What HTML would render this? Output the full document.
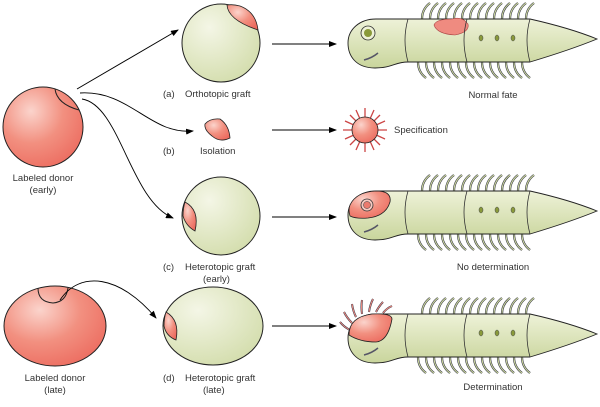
<!DOCTYPE html>
<html><head><style>body{margin:0;background:#fff}svg{display:block}text{font-family:"Liberation Sans",sans-serif;font-size:9.5px;fill:#333}</style></head><body>
<svg width="600" height="407" viewBox="0 0 600 407">
<defs>
<radialGradient id="r" cx="0.35" cy="0.3" r="0.8"><stop offset="0" stop-color="#fbd4cc"/><stop offset="0.5" stop-color="#f29080"/><stop offset="1" stop-color="#ec6a5e"/></radialGradient>
<radialGradient id="g" cx="0.35" cy="0.3" r="0.8"><stop offset="0" stop-color="#f4f6e6"/><stop offset="1" stop-color="#d2dcaa"/></radialGradient>
<linearGradient id="gb" x1="0" y1="0" x2="0" y2="1"><stop offset="0" stop-color="#eef2d8"/><stop offset="1" stop-color="#c9d59c"/></linearGradient>
<marker id="a" markerWidth="8" markerHeight="6" refX="7" refY="3" orient="auto" markerUnits="userSpaceOnUse"><path d="M0,0 L8,3 L0,6 Z" fill="#000"/></marker>
<g id="br" stroke="#333" stroke-width="0.6" fill="#c9d59c">
<path d="M422,19 q0,-10 8,-16 M430,19 q0,-10 8,-16 M438,19 q0,-10 8,-16 M446,19 q0,-10 8,-16 M454,19 q0,-10 8,-16 M462,19 q0,-10 8,-16 M470,19 q0,-10 8,-16 M478,19 q0,-10 8,-16 M486,19 q0,-10 8,-16 M494,19 q0,-10 8,-16 M502,19 q0,-10 8,-16 M510,19 q0,-10 8,-16 M518,19 q0,-10 8,-16 M526,19 q0,-10 8,-16" stroke="#334" stroke-width="2.2" fill="none"/>
<path d="M422,19 q0,-10 8,-16 M430,19 q0,-10 8,-16 M438,19 q0,-10 8,-16 M446,19 q0,-10 8,-16 M454,19 q0,-10 8,-16 M462,19 q0,-10 8,-16 M470,19 q0,-10 8,-16 M478,19 q0,-10 8,-16 M486,19 q0,-10 8,-16 M494,19 q0,-10 8,-16 M502,19 q0,-10 8,-16 M510,19 q0,-10 8,-16 M518,19 q0,-10 8,-16 M526,19 q0,-10 8,-16" stroke="#c9d59c" stroke-width="1.1" fill="none"/>
<path d="M418,62 q0,10 8,16 M426,62 q0,10 8,16 M434,62 q0,10 8,16 M442,62 q0,10 8,16 M450,62 q0,10 8,16 M458,62 q0,10 8,16 M466,62 q0,10 8,16 M474,62 q0,10 8,16 M482,62 q0,10 8,16 M490,62 q0,10 8,16 M498,62 q0,10 8,16 M506,62 q0,10 8,16 M514,62 q0,10 8,16 M522,62 q0,10 8,16" stroke="#334" stroke-width="2.2" fill="none"/>
<path d="M418,62 q0,10 8,16 M426,62 q0,10 8,16 M434,62 q0,10 8,16 M442,62 q0,10 8,16 M450,62 q0,10 8,16 M458,62 q0,10 8,16 M466,62 q0,10 8,16 M474,62 q0,10 8,16 M482,62 q0,10 8,16 M490,62 q0,10 8,16 M498,62 q0,10 8,16 M506,62 q0,10 8,16 M514,62 q0,10 8,16 M522,62 q0,10 8,16" stroke="#c9d59c" stroke-width="1.1" fill="none"/>
</g>
<path id="bodyp" d="M408,19 L530,19 Q570,28 597,39 Q570,50 530,62 L408,62 C395,62 392,68 375,68 C356,68 348,56 348,43 C348,29 360,19 376,19 C392,19 396,19 408,19 Z"/>
<g id="details" fill="none" stroke="#333" stroke-width="0.8">
<path d="M408,19 Q402,40 408,62 M467,19 Q461,40 467,62 M530,19 Q524,40 530,62"/>
<path d="M364,60 Q372,58 378,53" stroke="#556" stroke-width="1.5"/>
<ellipse cx="481" cy="38" rx="2" ry="3" fill="#8a9a3a" stroke="#445" stroke-width="0.5"/>
<ellipse cx="497" cy="38" rx="2" ry="3" fill="#8a9a3a" stroke="#445" stroke-width="0.5"/>
<ellipse cx="513" cy="38" rx="2" ry="3" fill="#8a9a3a" stroke="#445" stroke-width="0.5"/>
</g>
</defs>

<circle cx="43" cy="127" r="40" fill="url(#r)" stroke="#222" stroke-width="1"/>
<path d="M55,89 Q57,104 79,110" fill="none" stroke="#222" stroke-width="1"/>
<text x="43" y="181" text-anchor="middle">Labeled donor</text>
<text x="43" y="193" text-anchor="middle">(early)</text>

<path d="M77,89 L178,30" stroke="#000" fill="none" stroke-width="1" marker-end="url(#a)"/>
<path d="M80,93 C130,90 150,135 193,131" stroke="#000" fill="none" stroke-width="0.9" marker-end="url(#a)"/>
<path d="M82,99 C120,105 130,200 173,218" stroke="#000" fill="none" stroke-width="0.9" marker-end="url(#a)"/>

<circle cx="221" cy="43" r="39" fill="url(#g)" stroke="#222"/>
<path d="M227,5 Q228,20 258,30 Q256,12 240,6 Q233,4 227,5 Z" fill="url(#r)" stroke="#222" stroke-width="0.8"/>
<text x="163" y="97">(a)</text><text x="185" y="97">Orthotopic graft</text>

<path d="M205,124 Q210,118 220,119 Q229,125 230,138 Q220,143 212,136 Q204,130 205,124 Z" fill="url(#r)" stroke="#222" stroke-width="0.8"/>
<text x="163" y="154">(b)</text><text x="200" y="154">Isolation</text>

<circle cx="221" cy="216" r="39" fill="url(#g)" stroke="#222"/>
<path d="M185,202 Q200,210 195,231 Q186,226 183,216 Q183,208 185,202 Z" fill="url(#r)" stroke="#222" stroke-width="0.8"/>
<text x="163" y="270">(c)</text><text x="185" y="270">Heterotopic graft</text><text x="203" y="282">(early)</text>

<ellipse cx="55" cy="326" rx="51" ry="40" fill="url(#r)" stroke="#222"/>
<path d="M38,288 Q38,302 53,303 Q66,302 68,288" fill="none" stroke="#222"/>
<text x="55" y="381" text-anchor="middle">Labeled donor</text><text x="55" y="393" text-anchor="middle">(late)</text>
<path d="M60,300 C80,270 120,275 156,318" stroke="#000" fill="none" stroke-width="0.9" marker-end="url(#a)"/>

<ellipse cx="213" cy="326" rx="50" ry="39" fill="url(#g)" stroke="#222"/>
<path d="M166,312 Q180,320 176,340 Q166,336 164,326 Q164,318 166,312 Z" fill="url(#r)" stroke="#222" stroke-width="0.8"/>
<text x="163" y="381">(d)</text><text x="185" y="381">Heterotopic graft</text><text x="203" y="393">(late)</text>

<g stroke="#000" stroke-width="1" marker-end="url(#a)">
<line x1="272" y1="44" x2="336" y2="44"/>
<line x1="272" y1="130" x2="336" y2="130"/>
<line x1="272" y1="217" x2="336" y2="217"/>
<line x1="272" y1="326" x2="336" y2="326"/>
</g>

<g>
<use href="#br"/>
<use href="#bodyp" fill="url(#gb)" stroke="#222" stroke-width="0.9"/>
<path d="M452,19 Q462,16 468,24 Q470,32 455,35 Q437,34 434,25 Q436,19 452,19 Z" fill="#ef8b80" stroke="#a44" stroke-width="0.6"/>
<use href="#details"/>
<circle cx="368" cy="33" r="7" fill="#eef2d8" stroke="#333" stroke-width="0.8"/>
<circle cx="368" cy="33" r="4" fill="#8a9a3a"/>
</g>
<text x="493" y="98" text-anchor="middle">Normal fate</text>

<g stroke="#c44" stroke-width="1.3">
<line x1="365" y1="108" x2="365" y2="152"/><line x1="343" y1="130" x2="387" y2="130"/>
<line x1="350" y1="115" x2="380" y2="145"/><line x1="380" y1="115" x2="350" y2="145"/>
<line x1="356" y1="110" x2="374" y2="150"/><line x1="374" y1="110" x2="356" y2="150"/>
<line x1="345" y1="121" x2="385" y2="139"/><line x1="345" y1="139" x2="385" y2="121"/>
</g>
<circle cx="365" cy="130" r="13" fill="url(#r)" stroke="#222" stroke-width="0.8"/>
<text x="394" y="133">Specification</text>

<g transform="translate(0,172)">
<use href="#br"/>
<use href="#bodyp" fill="url(#gb)" stroke="#222" stroke-width="0.9"/>
<use href="#details"/>
<path d="M350,33 Q356,20 376,19 Q392,19 390,30 Q386,44 368,46 Q356,47 350,44 Q348,38 350,33 Z" fill="url(#r)" stroke="#222" stroke-width="0.8"/>
<circle cx="367" cy="33" r="6" fill="#f6c8c0" stroke="#333" stroke-width="0.8"/>
<circle cx="367" cy="33" r="3.5" fill="#ec7a6e" stroke="#333" stroke-width="0.5"/>
</g>
<text x="493" y="270" text-anchor="middle">No determination</text>

<g transform="translate(0,295)">
<use href="#br"/>
<g stroke="#334" stroke-width="2" fill="none"><path d="M350,35 q-6,-3 -10,-8 M352,28 q-5,-5 -8,-11 M356,22 q-3,-6 -4,-13 M362,19 q-1,-7 0,-14 M369,17 q1,-7 4,-13 M376,17 q3,-6 7,-10 M383,18 q4,-5 9,-7"/></g>
<g stroke="#ef8b80" stroke-width="1" fill="none"><path d="M350,35 q-6,-3 -10,-8 M352,28 q-5,-5 -8,-11 M356,22 q-3,-6 -4,-13 M362,19 q-1,-7 0,-14 M369,17 q1,-7 4,-13 M376,17 q3,-6 7,-10 M383,18 q4,-5 9,-7"/></g>
<use href="#bodyp" fill="url(#gb)" stroke="#222" stroke-width="0.9"/>
<use href="#details"/>
<path d="M349,40 Q349,22 372,19 Q392,18 392,24 Q388,46 376,47 Q360,47 349,40 Z" fill="url(#r)" stroke="#222" stroke-width="0.8"/>
</g>
<text x="493" y="390" text-anchor="middle">Determination</text>
</svg>
</body></html>
